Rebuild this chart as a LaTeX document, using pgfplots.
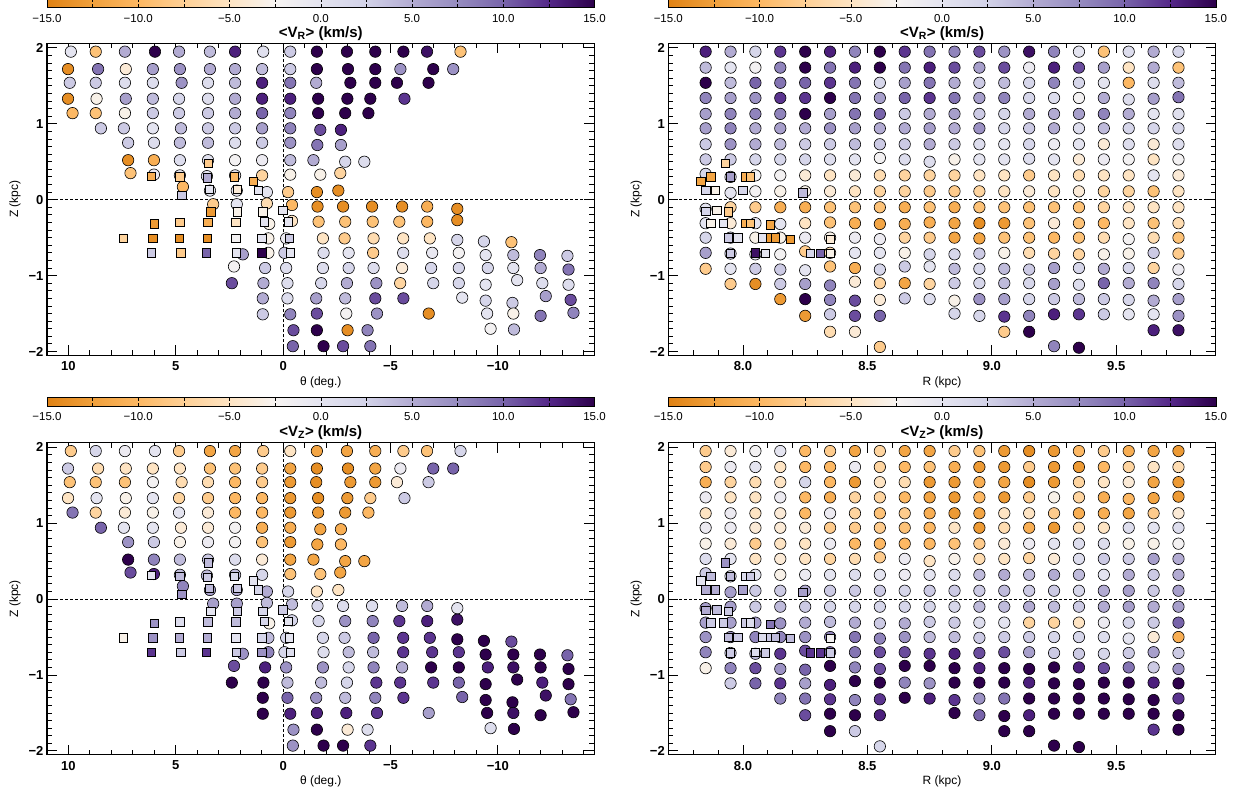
\documentclass[border=0pt]{standalone}
\usepackage{fontspec}
\setmainfont{Liberation Sans}
\usepackage{pgfplots}
\usepackage{pgfplotstable}
\pgfplotsset{compat=1.18}
\pgfplotsset{colormap={puor}{rgb255=(224,130,20) rgb255=(240,160,60) rgb255=(253,184,99) rgb255=(254,208,150) rgb255=(254,228,195) rgb255=(247,244,242) rgb255=(228,228,240) rgb255=(210,210,232) rgb255=(178,171,210) rgb255=(150,140,192) rgb255=(120,100,170) rgb255=(84,39,136) rgb255=(45,0,75)}}

\pgfplotstableread[row sep=\\]{
x z vr vz\\
9.89 1.95 0 -8\\ 8.73 1.95 -9 2\\ 7.37 1.95 5 -1\\ 5.97 1.95 15 0\\ 4.85 1.95 5 -8\\ 3.41 1.95 4 -12\\ 2.24 1.95 13 -12\\ 0.93 1.95 0.5 -8\\ -0.33 1.95 3 -5\\ -1.57 1.95 15 -12\\ -2.97 1.95 15 -12\\ -4.29 1.95 15 -11\\ -5.60 1.95 15 -8\\ -6.70 1.95 14 -9\\ -8.26 1.95 -9 2\\
10.02 1.72 -14 3\\ 8.62 1.72 9 -6\\ 7.33 1.72 -4 -5\\ 6.07 1.72 6 -5\\ 4.81 1.72 7 -5\\ 3.41 1.72 5 -9\\ 2.24 1.72 5 -9\\ 0.98 1.72 4 -8\\ -0.33 1.72 3 -12\\ -1.57 1.72 15 -14\\ -3.02 1.72 15 -14\\ -4.29 1.72 15 -12\\ -5.46 1.72 7 -1\\ -6.99 1.72 15 10\\ -7.92 1.72 7 10\\
9.94 1.54 3 -9\\ 8.73 1.54 3 -9\\ 7.37 1.54 1 -9\\ 6.07 1.54 1 -2\\ 4.73 1.54 7 -6\\ 3.50 1.54 1 -6\\ 2.24 1.54 4 -10\\ 0.98 1.54 13 -8\\ -0.33 1.54 9 -13\\ -1.54 1.54 5 -14\\ -3.13 1.54 15 -13\\ -4.29 1.54 15 -13\\ -5.30 1.54 15 -4\\ -6.77 1.54 15 3\\
10.02 1.33 -14 -5\\ 8.69 1.33 -3 0\\ 7.33 1.33 6 -3\\ 6.07 1.33 4 0\\ 4.85 1.33 2 -7\\ 3.50 1.33 1 -8\\ 2.24 1.33 5 -10\\ 0.98 1.33 13 -10\\ -0.33 1.33 13 -13\\ -1.63 1.33 15 -14\\ -2.99 1.33 15 -13\\ -4.06 1.33 15 -8\\ -5.65 1.33 12 3\\
9.81 1.14 -10 9\\ 8.73 1.14 -9 -7\\ 7.37 1.14 -3 -4\\ 6.07 1.14 3 -3\\ 4.85 1.14 3 0\\ 3.50 1.14 3 -4\\ 2.24 1.14 5 -10\\ 0.98 1.14 10 -10\\ -0.33 1.14 8 -13\\ -1.63 1.14 15 -13\\ -2.89 1.14 15 -13\\ -3.97 1.14 15 -10\\
8.49 0.94 3 10\\ 7.42 0.94 3 0\\ 6.07 0.94 0 0\\ 4.76 0.94 4 -4\\ 3.50 0.94 3 -4\\ 2.24 0.94 3 -2\\ 0.98 0.94 6 -11\\ -0.33 0.94 8 -11\\ -1.73 0.92 11 -12\\ -2.69 0.92 13 -11\\
7.22 0.75 3 7\\ 6.02 0.75 1 3\\ 4.81 0.75 4 -3\\ 3.50 0.75 4 -1\\ 2.24 0.75 1 -2\\ 0.98 0.75 3 -9\\ -0.33 0.75 7 -13\\ -1.59 0.72 9 -12\\ -2.69 0.72 6 -10\\
7.22 0.52 -14 15\\ 6.02 0.52 -11 8\\ 4.81 0.52 1 4\\ 3.50 0.52 0.5 3\\ 2.24 0.52 -2 1\\ 0.98 0.52 -1 -4\\ -0.33 0.52 4 -12\\ -1.41 0.52 5 -12\\ -2.89 0.50 2 -12\\ -3.78 0.50 1 -12\\
7.11 0.35 -9 11\\ 6.02 0.33 -1 13\\ 4.81 0.32 0 4\\ 3.55 0.31 0 4\\ 2.24 0.32 0 4\\ 0.98 0.32 -7 2\\ -0.33 0.33 -3 -9\\ -1.73 0.33 -3 -9\\ -2.66 0.35 -7 -12\\
4.67 0.17 -10 8\\ 3.41 0.12 0 6\\ 2.16 0.12 0 5\\ 0.76 0.10 0 5\\ -0.23 0.10 -8 2\\ -1.57 0.10 -14 -5\\ -2.57 0.12 -14 -5\\
3.26 -0.06 -8 6\\ 2.16 -0.06 0 6\\ 0.76 -0.05 -6 4\\ -0.41 -0.07 -10 4\\ -1.60 -0.09 -14 2\\ -2.79 -0.09 -14 1\\ -4.14 -0.09 -14 1\\ -5.54 -0.09 -14 4\\ -6.71 -0.09 -11 5\\ -8.11 -0.12 -14 0\\
0.65 -0.32 -3 -3\\ -0.41 -0.28 -5 2\\ -1.65 -0.29 -9 2\\ -2.89 -0.29 -9 7\\ -4.17 -0.29 -9 8\\ -5.41 -0.29 -9 12\\ -6.71 -0.29 -10 13\\ -8.11 -0.27 -14 14\\
0.69 -0.51 -3 4\\ -0.14 -0.51 -1 2\\ -1.85 -0.51 -5 2\\ -2.86 -0.51 -8 3\\ -4.21 -0.51 -6 10\\ -5.59 -0.51 -5 12\\ -6.83 -0.51 -5 12\\ -8.11 -0.53 2 15\\ -9.35 -0.55 2 15\\ -10.63 -0.56 -9 11\\
1.88 -0.72 6 7\\ 0.69 -0.70 -3 8\\ -0.06 -0.70 3 2\\ -1.88 -0.70 1 1\\ -3.05 -0.70 0 4\\ -4.19 -0.70 -8 4\\ -5.59 -0.70 1 12\\ -6.94 -0.70 -0.5 12\\ -8.18 -0.70 -2 12\\ -9.43 -0.73 0 15\\ -10.72 -0.73 4 15\\ -11.96 -0.73 8 15\\ -13.24 -0.74 3 10\\
2.29 -0.88 -2 11\\ 0.84 -0.90 3 13\\ -0.14 -0.90 1 7\\ -1.85 -0.90 1 7\\ -3.05 -0.90 2 2\\ -4.21 -0.90 1 8\\ -5.54 -0.90 -4 5\\ -6.89 -0.90 2 15\\ -8.18 -0.90 2 15\\ -9.53 -0.90 2 13\\ -10.72 -0.90 0 14\\ -11.99 -0.90 5 15\\ -13.29 -0.92 9 15\\
2.39 -1.10 11 15\\ 0.92 -1.10 5 15\\ -0.20 -1.10 1 4\\ -1.77 -1.10 2 4\\ -2.97 -1.10 5 2\\ -4.34 -1.10 7 12\\ -5.45 -1.10 -7 12\\ -6.99 -1.10 2 12\\ -8.18 -1.10 2 10\\ -9.43 -1.12 0 15\\ -10.90 -1.06 0 15\\ -12.07 -1.10 1 13\\ -13.29 -1.12 1 15\\
0.95 -1.30 5 15\\ -0.20 -1.30 1 10\\ -1.54 -1.30 6 7\\ -2.89 -1.30 4 4\\ -4.29 -1.30 11 8\\ -5.60 -1.30 11 12\\ -8.34 -1.29 0 10\\ -9.43 -1.33 2 15\\ -10.68 -1.36 3 15\\ -12.23 -1.27 6 14\\ -13.39 -1.32 11 9\\
0.95 -1.51 3 15\\ -0.33 -1.51 8 13\\ -1.57 -1.50 11 13\\ -2.94 -1.50 -2 13\\ -4.37 -1.50 7 12\\ -6.78 -1.50 -14 6\\ -9.50 -1.50 0 15\\ -10.72 -1.50 -3 14\\ -11.99 -1.53 9 15\\ -13.52 -1.49 8 15\\
-0.48 -1.72 11 7\\ -1.57 -1.72 15 15\\ -3.00 -1.72 -14 -4\\ -3.93 -1.72 8 1\\ -9.66 -1.70 -2 1\\ -10.75 -1.71 4 15\\
-0.45 -1.93 10 7\\ -1.88 -1.93 15 15\\ -2.79 -1.93 11 15\\ -4.06 -1.93 9 12\\
}\thC

\pgfplotstableread[row sep=\\]{
x z vr vz\\
6.13 0.31 -11 0\\ 4.81 0.30 -8 4\\ 3.53 0.29 5 3\\ 2.27 0.30 -10 2\\ 1.39 0.24 -11 0\\ 3.48 0.48 -8 4\\
4.73 0.06 3 7\\ 3.44 0.14 0 4\\ 2.13 0.14 -4 3\\ 1.17 0.12 0 2\\
3.37 -0.16 -13 0\\ 2.15 -0.16 -3 3\\ 0.95 -0.16 -3 2\\ 0.01 -0.14 0 3\\
6.00 -0.32 -13 7\\ 4.81 -0.30 -8 1\\ 3.51 -0.30 -11 4\\ 2.21 -0.30 -5 4\\ 0.89 -0.29 0 2\\ -0.23 -0.29 0 0\\
7.45 -0.51 -7 -3\\ 6.08 -0.51 -14 7\\ 4.84 -0.51 -14 5\\ 3.53 -0.51 -14 5\\ 2.21 -0.51 -2 0\\ 0.99 -0.51 0 2\\ -0.29 -0.51 3 0\\
6.13 -0.70 3 12\\ 4.77 -0.70 -8 3\\ 3.59 -0.70 10 12\\ 2.17 -0.70 0 3\\ 0.99 -0.70 15 7\\ -0.33 -0.70 0 1\\
}\thS

\pgfplotstableread[row sep=\\]{
x z vr vz\\
7.85 1.95 13 -8\\ 7.95 1.95 5 -4\\ 8.05 1.95 2 -2\\ 8.15 1.95 12 0\\ 8.25 1.95 15 -10\\ 8.35 1.95 13 -8\\ 8.45 1.95 8 -12\\ 8.55 1.95 15 -7\\ 8.65 1.95 12 -12\\ 8.75 1.95 9 -12\\ 8.85 1.95 8 -8\\ 8.95 1.95 11 -9\\ 9.05 1.95 7 -13\\ 9.15 1.95 14 -14\\ 9.25 1.95 8 -13\\ 9.35 1.95 0 -10\\ 9.45 1.95 -9 -8\\ 9.55 1.95 1 -11\\ 9.65 1.95 5 -12\\ 9.75 1.95 2 -13\\
7.85 1.74 4 -8\\ 7.95 1.74 0 -1\\ 8.05 1.74 -2 0\\ 8.15 1.74 8 -5\\ 8.25 1.74 15 -10\\ 8.35 1.74 9 -10\\ 8.45 1.74 13 -1\\ 8.55 1.74 15 -7\\ 8.65 1.74 9 -10\\ 8.75 1.74 13 -9\\ 8.85 1.74 11 -11\\ 8.95 1.74 6 -13\\ 9.05 1.74 11 -13\\ 9.15 1.74 -1 -8\\ 9.25 1.74 13 -13\\ 9.35 1.74 11 -13\\ 9.45 1.74 6 -10\\ 9.55 1.74 -5 -7\\ 9.65 1.74 5 -5\\ 9.75 1.74 -9 -6\\
7.85 1.54 15 -11\\ 7.95 1.54 4 -7\\ 8.05 1.54 10 -6\\ 8.15 1.54 9 -5\\ 8.25 1.54 10 2\\ 8.35 1.54 12 -10\\ 8.45 1.54 9 -13\\ 8.55 1.54 2 -5\\ 8.65 1.54 6 -6\\ 8.75 1.54 9 -13\\ 8.85 1.54 5 -13\\ 8.95 1.54 3 -11\\ 9.05 1.54 4 -12\\ 9.15 1.54 2 -14\\ 9.25 1.54 8 -13\\ 9.35 1.54 2 -7\\ 9.45 1.54 0 -5\\ 9.55 1.54 -10 -4\\ 9.65 1.54 1 -12\\ 9.75 1.54 4 -13\\
7.85 1.34 8 -1\\ 7.95 1.34 6 -5\\ 8.05 1.34 7 -5\\ 8.15 1.34 12 -1\\ 8.25 1.34 12 -10\\ 8.35 1.34 15 -11\\ 8.45 1.34 9 -7\\ 8.55 1.34 6 -7\\ 8.65 1.34 10 -10\\ 8.75 1.34 12 -12\\ 8.85 1.34 9 -13\\ 8.95 1.34 6 -10\\ 9.05 1.34 8 -13\\ 9.15 1.34 2 -8\\ 9.25 1.34 1 -3\\ 9.35 1.34 -2 -7\\ 9.45 1.34 5 -11\\ 9.55 1.32 1 -10\\ 9.65 1.33 6 -12\\ 9.75 1.35 9 -13\\
7.85 1.13 6 -5\\ 7.95 1.13 8 -1\\ 8.05 1.13 8 -5\\ 8.15 1.13 8 -4\\ 8.25 1.13 15 -10\\ 8.35 1.13 6 -1\\ 8.45 1.13 9 -7\\ 8.55 1.13 10 -9\\ 8.65 1.13 3 -8\\ 8.75 1.13 5 -11\\ 8.85 1.13 6 -13\\ 8.95 1.13 3 -12\\ 9.05 1.13 2 -5\\ 9.15 1.13 5 -5\\ 9.25 1.13 5 -8\\ 9.35 1.13 6 -11\\ 9.45 1.13 8 -11\\ 9.55 1.13 5 -12\\ 9.65 1.13 0 -8\\ 9.75 1.13 0.5 -4\\
7.85 0.94 6 -1\\ 7.95 0.94 8 -1\\ 8.05 0.94 5 -4\\ 8.15 0.94 6 -4\\ 8.25 0.94 5 -4\\ 8.35 0.94 7 -8\\ 8.45 0.94 6 -8\\ 8.55 0.94 5 -8\\ 8.65 0.94 5 -9\\ 8.75 0.94 6 -10\\ 8.85 0.94 5 -5\\ 8.95 0.94 7 -13\\ 9.05 0.94 2 -6\\ 9.15 0.94 3 -11\\ 9.25 0.94 5 -13\\ 9.35 0.94 1 -6\\ 9.45 0.94 4 -5\\ 9.55 0.94 2 1\\ 9.65 0.94 2 0\\ 9.75 0.94 2 1\\
7.85 0.73 3 -3\\ 7.95 0.73 7 -4\\ 8.05 0.73 5 -8\\ 8.15 0.73 4 -5\\ 8.25 0.73 3 -5\\ 8.35 0.73 3 -1\\ 8.45 0.73 4 -10\\ 8.55 0.73 3 -10\\ 8.65 0.73 3 -10\\ 8.75 0.73 5 -10\\ 8.85 0.73 3 -9\\ 8.95 0.73 1 -8\\ 9.05 0.73 0 -4\\ 9.15 0.73 2 -1\\ 9.25 0.73 -1 0\\ 9.35 0.73 0 1\\ 9.45 0.73 -4 1\\ 9.55 0.73 1 -3\\ 9.65 0.73 -4 -3\\ 9.75 0.73 1 -2\\
7.85 0.53 3 1\\ 7.95 0.53 3 0\\ 8.05 0.53 2 -5\\ 8.15 0.53 2 -4\\ 8.25 0.53 2 -5\\ 8.35 0.53 1 -7\\ 8.45 0.53 0 -6\\ 8.55 0.55 -2 -8\\ 8.65 0.53 1 -1\\ 8.75 0.50 1 -5\\ 8.85 0.53 -3 -3\\ 8.95 0.53 0 -6\\ 9.05 0.53 0 -5\\ 9.15 0.54 1 -7\\ 9.25 0.53 0 -4\\ 9.35 0.53 -4 1\\ 9.45 0.53 -1 3\\ 9.55 0.53 -2 3\\ 9.65 0.53 -5 6\\ 9.75 0.53 -2 5\\
7.85 0.34 2 3\\ 7.95 0.30 0 0\\ 8.05 0.32 -2 0\\ 8.15 0.32 -2 -3\\ 8.25 0.32 -4 -1\\ 8.35 0.32 -5 0\\ 8.45 0.32 -4 1\\ 8.55 0.32 -6 0\\ 8.65 0.32 -7 -1\\ 8.75 0.32 -7 0\\ 8.85 0.32 -7 1\\ 8.95 0.32 -5 4\\ 9.05 0.32 -5 5\\ 9.15 0.32 -8 4\\ 9.25 0.32 -5 5\\ 9.35 0.32 -6 4\\ 9.45 0.32 -5 0\\ 9.55 0.32 -5 5\\ 9.65 0.32 0 3\\ 9.75 0.32 -4 5\\
7.95 0.09 0 6\\ 8.05 0.11 -2 3\\ 8.15 0.11 -3 3\\ 8.25 0.11 -3 5\\ 8.35 0.11 -4 3\\ 8.45 0.11 -5 3\\ 8.55 0.11 -7 3\\ 8.65 0.11 -7 2\\ 8.75 0.11 -8 3\\ 8.85 0.11 -8 3\\ 8.95 0.11 -7 3\\ 9.05 0.11 -5 4\\ 9.15 0.11 -4 3\\ 9.25 0.11 -5 3\\ 9.35 0.11 -4 2\\ 9.45 0.11 -7 5\\ 9.55 0.11 -7 6\\ 9.65 0.11 -9 3\\ 9.75 0.11 -5 6\\
7.85 -0.12 0 6\\ 7.95 -0.10 -7 6\\ 8.05 -0.10 -8 3\\ 8.15 -0.10 -11 4\\ 8.25 -0.10 -11 3\\ 8.35 -0.10 -9 2\\ 8.45 -0.10 -9 2\\ 8.55 -0.10 -9 2\\ 8.65 -0.10 -11 2\\ 8.75 -0.10 -9 2\\ 8.85 -0.10 -11 2\\ 8.95 -0.10 -9 4\\ 9.05 -0.10 -9 4\\ 9.15 -0.10 -9 5\\ 9.25 -0.10 -9 4\\ 9.35 -0.10 -9 3\\ 9.45 -0.10 -7 5\\ 9.55 -0.10 -5 6\\ 9.65 -0.10 -5 5\\ 9.75 -0.10 -5 6\\
7.85 -0.31 0 6\\ 7.95 -0.31 -4 6\\ 8.05 -0.31 0 6\\ 8.15 -0.32 0 7\\ 8.25 -0.31 -5 5\\ 8.35 -0.30 -9 4\\ 8.45 -0.31 -11 5\\ 8.55 -0.32 -12 3\\ 8.65 -0.32 -11 5\\ 8.75 -0.30 -11 3\\ 8.85 -0.31 -12 3\\ 8.95 -0.31 -14 1\\ 9.05 -0.31 -13 0\\ 9.15 -0.31 -9 -7\\ 9.25 -0.31 -4 -7\\ 9.35 -0.31 -9 -5\\ 9.45 -0.31 -10 -1\\ 9.55 -0.31 -5 2\\ 9.65 -0.31 -9 3\\ 9.75 -0.31 -6 10\\
7.85 -0.50 2 7\\ 7.95 -0.50 3 7\\ 8.05 -0.50 -3 8\\ 8.15 -0.50 -3 8\\ 8.25 -0.50 -1 7\\ 8.35 -0.50 -3 8\\ 8.45 -0.50 -1 9\\ 8.55 -0.52 -1 8\\ 8.65 -0.50 -7 7\\ 8.75 -0.50 -8 4\\ 8.85 -0.50 -12 4\\ 8.95 -0.51 -12 3\\ 9.05 -0.50 -9 3\\ 9.15 -0.50 -9 3\\ 9.25 -0.50 -10 2\\ 9.35 -0.50 -9 2\\ 9.45 -0.50 -6 1\\ 9.55 -0.52 -2 0\\ 9.65 -0.50 -6 -4\\ 9.75 -0.50 -9 -11\\
7.85 -0.70 6 8\\ 7.95 -0.71 3 3\\ 8.05 -0.72 0 4\\ 8.15 -0.72 -2 12\\ 8.25 -0.68 -8 11\\ 8.35 -0.70 -6 10\\ 8.45 -0.70 0 9\\ 8.55 -0.70 0 11\\ 8.65 -0.70 -3 11\\ 8.75 -0.72 2 12\\ 8.85 -0.72 2 13\\ 8.95 -0.71 3 11\\ 9.05 -0.70 -3 11\\ 9.15 -0.70 -6 6\\ 9.25 -0.71 -7 3\\ 9.35 -0.72 -7 3\\ 9.45 -0.72 -3 2\\ 9.55 -0.71 -3 3\\ 9.65 -0.70 3 6\\ 9.75 -0.71 -8 3\\
7.85 -0.91 -8 -3\\ 7.95 -0.91 0 8\\ 8.05 -0.91 3 11\\ 8.15 -0.92 3 7\\ 8.25 -0.93 0 10\\ 8.35 -0.88 -9 15\\ 8.45 -0.90 -11 8\\ 8.55 -0.92 2 11\\ 8.65 -0.88 3 15\\ 8.75 -0.88 0 15\\ 8.85 -0.91 4 15\\ 8.95 -0.91 2 13\\ 9.05 -0.91 4 15\\ 9.15 -0.92 3 15\\ 9.25 -0.90 6 15\\ 9.35 -0.90 2 13\\ 9.45 -0.91 5 11\\ 9.55 -0.90 2 9\\ 9.65 -0.90 -7 3\\ 9.75 -0.92 -1 7\\
7.95 -1.11 -8 3\\ 8.05 -1.11 -14 10\\ 8.15 -1.11 3 12\\ 8.25 -1.11 6 6\\ 8.35 -1.13 8 13\\ 8.45 -1.08 -4 15\\ 8.55 -1.10 -7 15\\ 8.65 -1.10 -12 8\\ 8.75 -1.11 -7 7\\ 8.85 -1.10 3 15\\ 8.95 -1.10 2 15\\ 9.05 -1.10 4 15\\ 9.15 -1.10 2 13\\ 9.25 -1.11 6 15\\ 9.35 -1.12 1 15\\ 9.45 -1.10 10 15\\ 9.55 -1.10 5 15\\ 9.65 -1.10 8 13\\ 9.75 -1.11 2 15\\
8.15 -1.31 -13 8\\ 8.25 -1.31 15 9\\ 8.35 -1.32 8 12\\ 8.45 -1.33 11 8\\ 8.55 -1.32 -4 12\\ 8.65 -1.30 3 15\\ 8.75 -1.31 1 13\\ 8.85 -1.33 -3 12\\ 8.95 -1.31 7 7\\ 9.05 -1.31 6 9\\ 9.15 -1.31 2 15\\ 9.25 -1.31 3 15\\ 9.35 -1.31 4 15\\ 9.45 -1.31 3 15\\ 9.55 -1.32 2 15\\ 9.65 -1.33 5 15\\ 9.75 -1.31 6 12\\
8.25 -1.53 -13 11\\ 8.35 -1.51 3 15\\ 8.45 -1.53 11 15\\ 8.55 -1.53 10 13\\ 8.85 -1.50 2 15\\ 8.95 -1.53 2 10\\ 9.05 -1.54 12 15\\ 9.15 -1.53 8 13\\ 9.25 -1.51 13 15\\ 9.35 -1.51 12 15\\ 9.45 -1.51 3 15\\ 9.55 -1.51 0 15\\ 9.65 -1.51 0 15\\ 9.75 -1.53 7 15\\
8.35 -1.74 -6 15\\ 8.45 -1.74 -4 3\\ 9.05 -1.74 -8 15\\ 9.15 -1.74 15 15\\ 9.65 -1.72 13 12\\ 9.75 -1.72 14 15\\
8.55 -1.94 -8 2\\ 9.25 -1.93 8 15\\ 9.35 -1.95 15 15\\
}\rC

\pgfplotstableread[row sep=\\]{
x z vr vz\\
7.83 0.24 -12 0\\ 7.87 0.30 -12 4\\ 7.95 0.30 6 4\\ 8.01 0.30 -11 1\\ 8.03 0.30 -9 3\\ 7.93 0.48 -7 7\\
7.85 0.12 2 5\\ 7.89 0.12 -3 5\\ 8.00 0.12 2 6\\ 8.24 0.09 4 6\\
7.85 -0.15 2 5\\ 7.895 -0.14 -3 4\\ 7.94 -0.16 -8 3\\
7.87 -0.31 -3 3\\ 7.92 -0.31 0 3\\ 8.01 -0.31 -11 3\\ 8.03 -0.31 -9 1\\ 8.11 -0.33 -12 9\\
7.94 -0.50 3 4\\ 7.98 -0.50 0 3\\ 8.08 -0.50 0 1\\ 8.11 -0.50 -13 3\\ 8.13 -0.50 -13 4\\ 8.19 -0.52 -13 4\\ 8.35 -0.52 -4 -2\\
7.95 -0.71 3 3\\ 8.05 -0.70 14 1\\ 8.09 -0.71 0 3\\ 8.27 -0.71 2 12\\ 8.31 -0.71 10 12\\ 8.35 -0.71 -3 3\\
}\rS

\pgfplotsset{
 panel/.style={
  scale only axis, width=547.5pt, height=312pt, anchor=north west,
  ymin=-2.05, ymax=2.06, ytick={-2,-1,0,1,2}, yticklabels={−2,−1,0,1,2},
  minor ytick={-2,-1.9,...,2},
  tick align=inside, major tick length=10pt, minor tick length=5pt,
  every tick/.style={black, line width=0.9pt},
  axis line style={line width=1.2pt},
  tick label style={font=\fontsize{13}{14}\selectfont\bfseries},
  xticklabel style={yshift=-2.7pt},
  colormap name=puor, point meta min=-15, point meta max=15,
  every axis title/.style={at={(0.5,1)}, anchor=base, yshift=6pt, font=\fontsize{15}{16}\selectfont\bfseries},
  every axis x label/.style={at={(axis description cs:0.5,-0.096)}, anchor=base, font=\fontsize{12}{13}\selectfont},
  every axis y label/.style={at={(axis description cs:-0.0585,0.5)}, rotate=90, anchor=center, font=\fontsize{12}{13}\selectfont},
  ylabel={Z (kpc)},
 },
 thpanel/.style={panel, xmin=-14.5, xmax=11, x dir=reverse, xtick={10,5,0,-5,-10}, xticklabels={10,5,0,−5,−10}, minor xtick={-14,-13,...,11}, xlabel={θ (deg.)}},
 rpanel/.style={panel, xmin=7.7, xmax=9.9, xtick={8,8.5,9,9.5}, xticklabels={8.0,8.5,9.0,9.5}, minor xtick={7.7,7.8,...,9.9}, xlabel={R (kpc)}},
 circ/.style={scatter, only marks, mark=*, mark size=5.7pt, scatter src=explicit, scatter/use mapped color={draw=black, fill=mapped color}, mark options={line width=0.6pt}},
 sq/.style={scatter, only marks, mark=square*, mark size=4.2pt, scatter src=explicit, scatter/use mapped color={draw=black, fill=mapped color}, mark options={line width=0.6pt}},
 zline/.style={black, line width=0.7pt, dash pattern=on 3pt off 2pt},
 cbar/.style={hide axis, scale only axis, width=547.5pt, height=1pt, anchor=south west, xmin=0, xmax=1, ymin=0, ymax=1,
  colormap name=puor, point meta min=-15, point meta max=15, colorbar horizontal,
  colorbar style={at={(0,0)}, anchor=south west, scale only axis, width=547.5pt, height=8.5pt,
   xtick={-15,-10,-5,0,5,10,15}, xticklabels={−15.0,−10.0,−5.0,0.0,5.0,10.0,15.0}, minor x tick num=1,
   xticklabel style={font=\fontsize{11.5}{12}\selectfont, yshift=-3.2pt},
   tick align=inside, major tick length=3pt, minor tick length=3pt,
   every tick/.style={black, line width=0.5pt}, axis line style={line width=0.6pt}}},
}

\begin{document}
\begin{tikzpicture}
% colorbars
\begin{axis}[cbar, at={(47pt,-7.3pt)}]
\addplot[draw=none] coordinates {(0,0)};
\end{axis}
\begin{axis}[cbar, at={(668.3pt,-7.3pt)}]
\addplot[draw=none] coordinates {(0,0)};
\end{axis}
\begin{axis}[cbar, at={(47pt,-406pt)}]
\addplot[draw=none] coordinates {(0,0)};
\end{axis}
\begin{axis}[cbar, at={(668.3pt,-406pt)}]
\addplot[draw=none] coordinates {(0,0)};
\end{axis}

% top-left
\begin{axis}[thpanel, at={(47pt,-43.3pt)}, title={<V\textsubscript{R}> (km/s)}]
\addplot[zline] coordinates {(-20,0) (20,0)};
\addplot[zline] coordinates {(0,-3) (0,3)};
\addplot[circ] table[x=x, y=z, meta=vr] {\thC};
\addplot[sq] table[x=x, y=z, meta=vr] {\thS};
\end{axis}

% top-right
\begin{axis}[rpanel, at={(668.3pt,-43.3pt)}, title={<V\textsubscript{R}> (km/s)}]
\addplot[zline] coordinates {(7,0) (10,0)};
\addplot[circ] table[x=x, y=z, meta=vr] {\rC};
\addplot[sq] table[x=x, y=z, meta=vr] {\rS};
\end{axis}

% bottom-left
\begin{axis}[thpanel, at={(47pt,-442.7pt)}, title={<V\textsubscript{Z}> (km/s)}]
\addplot[zline] coordinates {(-20,0) (20,0)};
\addplot[zline] coordinates {(0,-3) (0,3)};
\addplot[circ] table[x=x, y=z, meta=vz] {\thC};
\addplot[sq] table[x=x, y=z, meta=vz] {\thS};
\end{axis}

% bottom-right
\begin{axis}[rpanel, at={(668.3pt,-442.7pt)}, title={<V\textsubscript{Z}> (km/s)}]
\addplot[zline] coordinates {(7,0) (10,0)};
\addplot[circ] table[x=x, y=z, meta=vz] {\rC};
\addplot[sq] table[x=x, y=z, meta=vz] {\rS};
\end{axis}

\pgfresetboundingbox
\path[use as bounding box] (0pt,0pt) rectangle (1241pt,-793pt);
\end{tikzpicture}
\end{document}
